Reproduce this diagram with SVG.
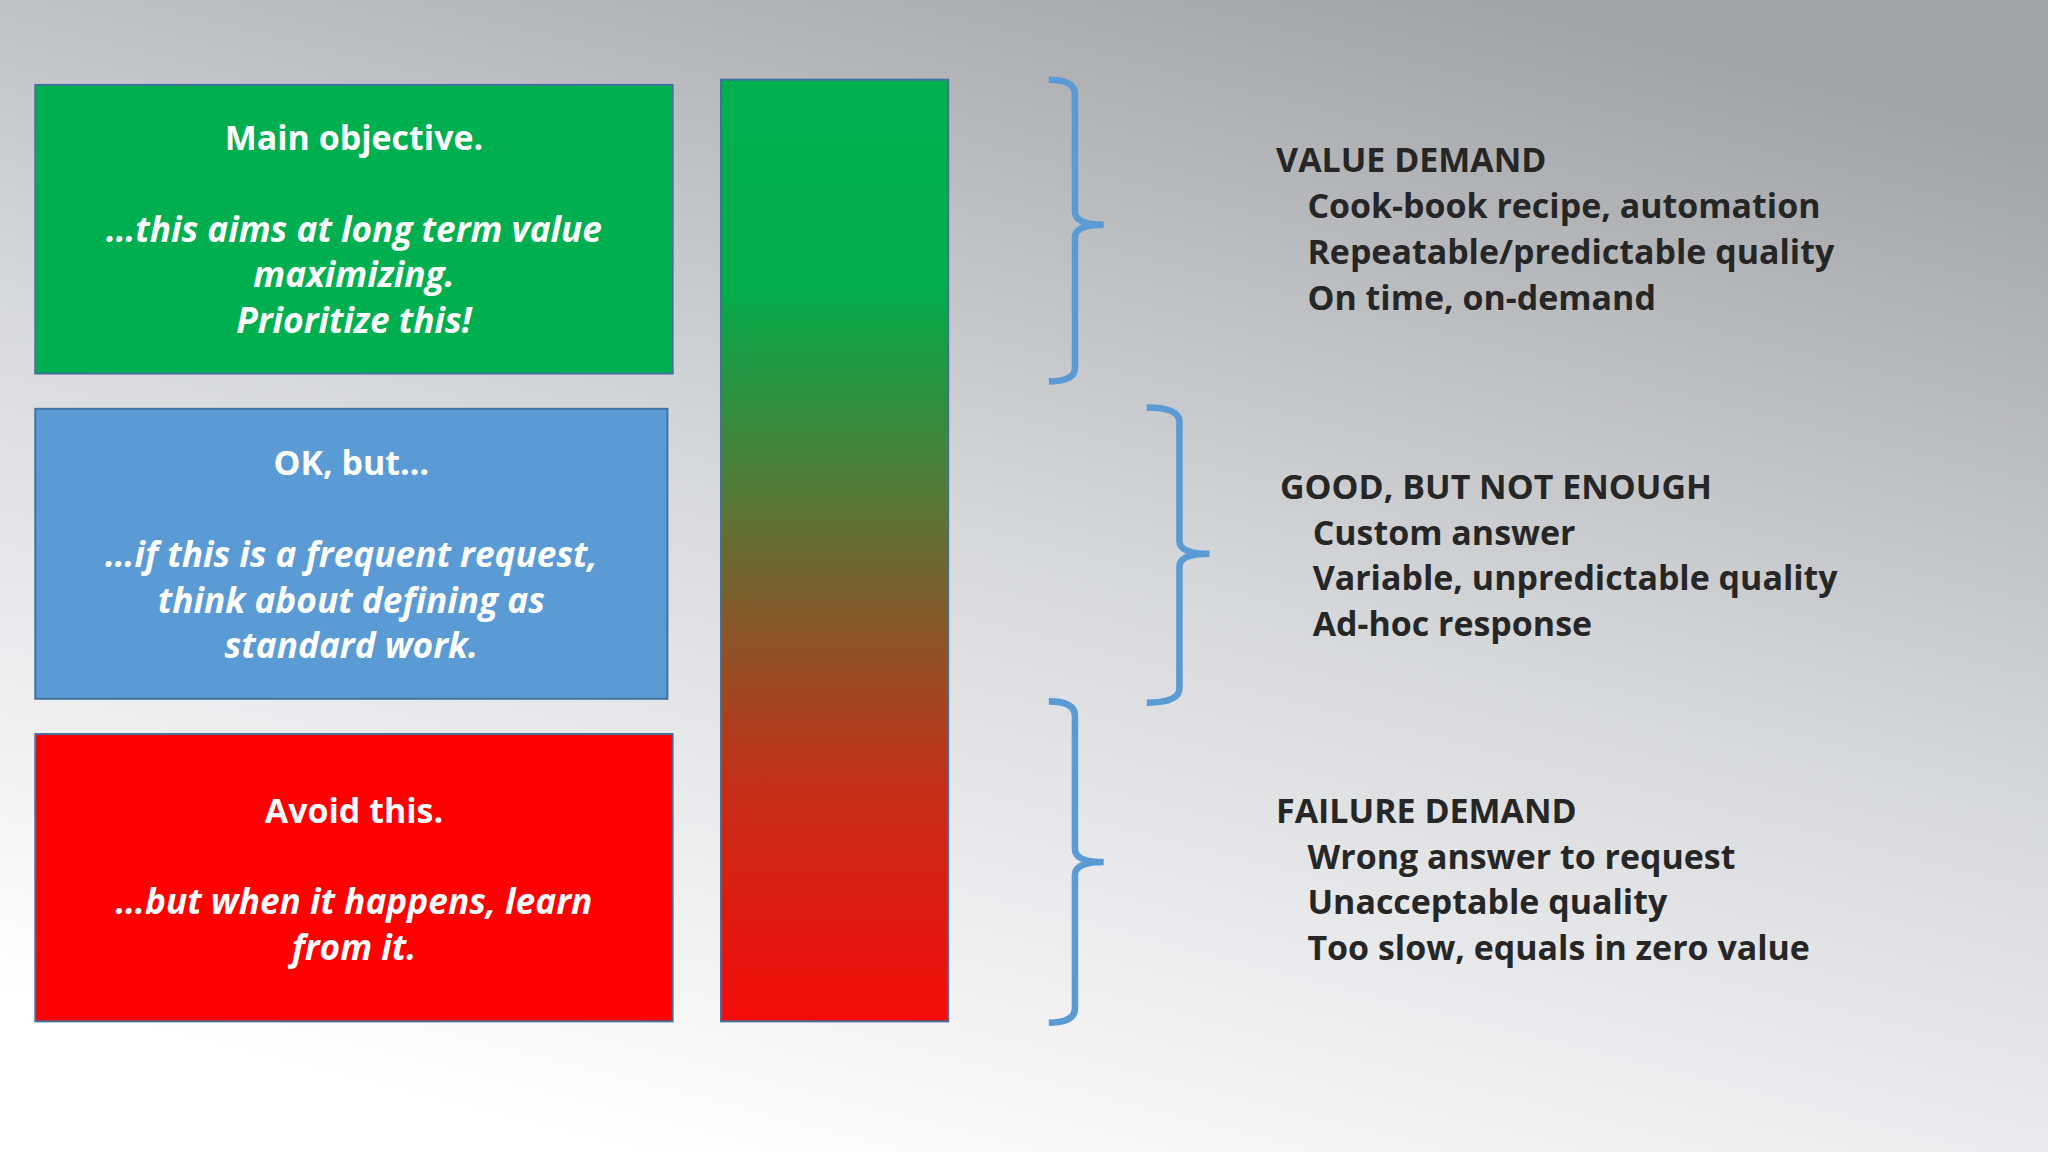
<svg xmlns="http://www.w3.org/2000/svg" width="2048" height="1152" viewBox="0 0 2048 1152">
<defs>
<linearGradient id="bg" x1="0.3" y1="1" x2="0.75" y2="0">
<stop offset="0" stop-color="#ffffff"/><stop offset="0.5" stop-color="#d8d9dc"/><stop offset="1" stop-color="#a2a3a7"/>
</linearGradient>
<linearGradient id="bar" x1="0" y1="0" x2="0" y2="1">
<stop offset="0" stop-color="#00b050"/><stop offset="0.22" stop-color="#03ad4c"/><stop offset="0.5" stop-color="#6a6a30"/><stop offset="0.75" stop-color="#c52f18"/><stop offset="1" stop-color="#f40a0a"/>
</linearGradient>
<style>
.box{stroke:#41719c;stroke-width:1.5}
.bt{font-family:"Open Sans","Noto Sans",sans-serif;font-weight:700;fill:#fff;font-size:26px;text-anchor:middle}
.bi{font-style:italic;font-size:27px}
.h{font-family:"Open Sans","Noto Sans",sans-serif;font-weight:700;fill:#262626;font-size:26px}
.br{fill:none;stroke:#5b9bd5;stroke-width:5}
</style>
</defs>
<rect width="2048" height="1152" fill="url(#bg)"/>
<g transform="scale(1.30612)">
<g id="green"><rect class="box" x="27" y="65" width="488" height="221" fill="#00b050"/>
<text class="bt" x="271" y="115">Main objective.</text>
<text class="bt bi" x="271" y="185">…this aims at long term value</text>
<text class="bt bi" x="271" y="220">maximizing.</text>
<text class="bt bi" x="271" y="255">Prioritize this!</text></g>
<g id="blue"><rect class="box" x="27" y="313" width="484" height="222" fill="#5b9bd5"/>
<text class="bt" x="269" y="364">OK, but…</text>
<text class="bt bi" x="269" y="434">…if this is a frequent request,</text>
<text class="bt bi" x="269" y="469">think about defining as</text>
<text class="bt bi" x="269" y="504">standard work.</text></g>
<g id="red"><rect class="box" x="27" y="562" width="488" height="220" fill="#ff0000"/>
<text class="bt" x="271" y="630">Avoid this.</text>
<text class="bt bi" x="271" y="700">…but when it happens, learn</text>
<text class="bt bi" x="271" y="735">from it.</text></g>
<g id="bar-node"><rect class="box" x="552" y="61" width="174" height="721" fill="url(#bar)"/></g>
<g id="connectors">
<path class="br" d="M803,61 Q823,61 823,72 V162 Q823,172 845,172 Q823,172 823,182 V282 Q823,292 803,292"/>
<path class="br" d="M878,312 Q903,312 903,323 V414 Q903,424 926,424 Q903,424 903,434 V527 Q903,538 878,538"/>
<path class="br" d="M803,537 Q823,537 823,548 V650 Q823,660 845,660 Q823,660 823,670 V772 Q823,783 803,783"/>
</g>
<g id="value"><text class="h" x="977" y="132">VALUE DEMAND</text>
<text class="h" x="1001" y="167">Cook-book recipe, automation</text>
<text class="h" x="1001" y="202">Repeatable/predictable quality</text>
<text class="h" x="1001" y="237">On time, on-demand</text></g>
<g id="good"><text class="h" x="980" y="382">GOOD, BUT NOT ENOUGH</text>
<text class="h" x="1005" y="417">Custom answer</text>
<text class="h" x="1005" y="452">Variable, unpredictable quality</text>
<text class="h" x="1005" y="487">Ad-hoc response</text></g>
<g id="failure"><text class="h" x="977" y="630">FAILURE DEMAND</text>
<text class="h" x="1001" y="665">Wrong answer to request</text>
<text class="h" x="1001" y="700">Unacceptable quality</text>
<text class="h" x="1001" y="735">Too slow, equals in zero value</text></g>
</g>
</svg>
